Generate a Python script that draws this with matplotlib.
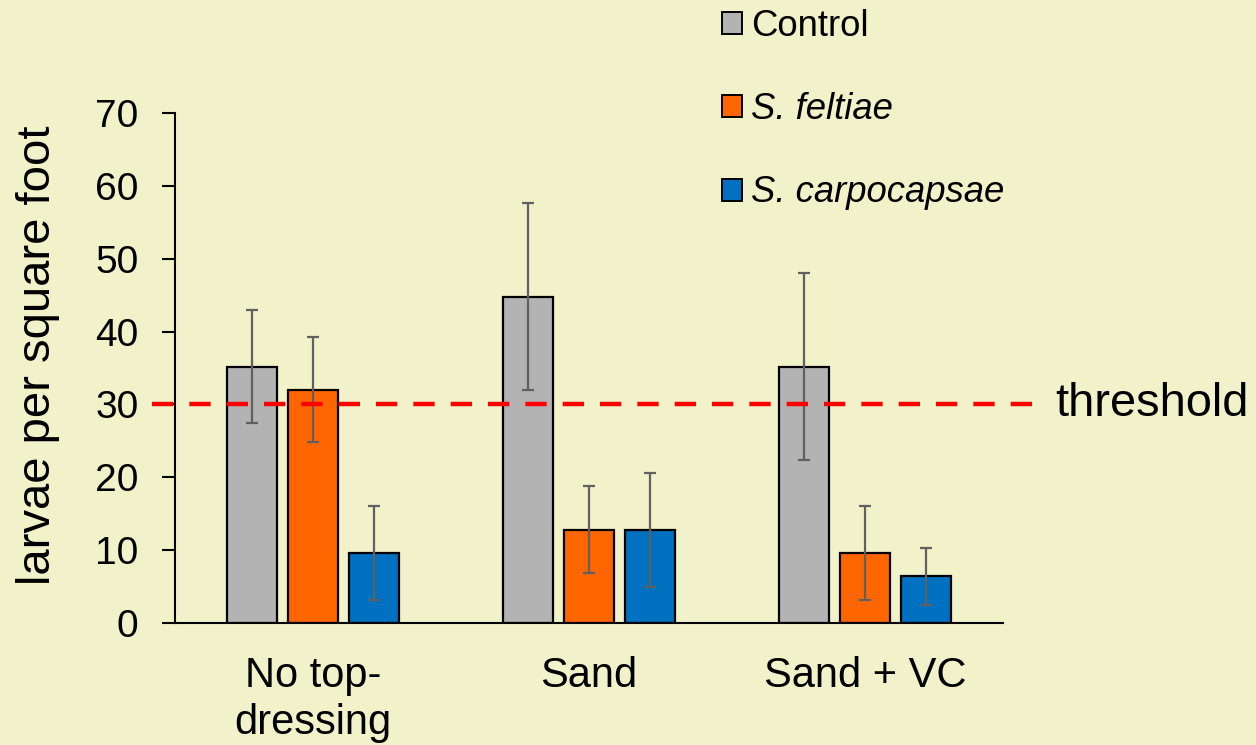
import numpy as np
import matplotlib
matplotlib.use('Agg')
import matplotlib.pyplot as plt
from matplotlib.patches import Patch

plt.rcParams['font.family'] = ['Liberation Sans', 'DejaVu Sans']

# data
groups = ['No top-\ndressing', 'Sand', 'Sand + VC']
series = ['Control', 'S. feltiae', 'S. carpocapsae']
control = [35.2, 44.8, 35.2]
control_err = [7.8, 12.8, 12.8]
feltiae = [32.0, 12.8, 9.6]
feltiae_err = [7.2, 6.0, 6.4]
carpo = [9.6, 12.8, 6.4]
carpo_err = [6.4, 7.8, 3.9]
threshold = 30
yticks = [0, 10, 20, 30, 40, 50, 60, 70]

bg = '#F2F2CA'
colors = ['#B3B3B3', '#FF6600', '#0070C0']

fig = plt.figure(figsize=(12.56, 7.45), dpi=100, facecolor=bg)
ax = fig.add_axes([175/1256, 1-623/745, 828/1256, 510/745])
ax.set_facecolor(bg)

x = np.arange(len(groups))
w = 0.178
step = 0.221
ekw = dict(ecolor='#606060', elinewidth=1.6, capsize=4.3, capthick=1.6)
for i, (vals, errs) in enumerate([(control, control_err), (feltiae, feltiae_err), (carpo, carpo_err)]):
    ax.bar(x + (i-1)*step, vals, w, yerr=errs, color=colors[i], edgecolor='black',
           linewidth=1.6, error_kw=ekw, zorder=2)

# threshold line, extends beyond the axes
ax.plot([-0.583, 2.609], [threshold, threshold], color='#FF0000', lw=3.2,
        linestyle=(0, (4.8, 3.6)), clip_on=False, zorder=4)
ax.text(2.688, threshold, 'threshold', fontsize=33.8, va='center', ha='left',
        clip_on=False)

ax.set_xlim(-0.5, 2.5)
ax.set_ylim(0, 70)
ax.set_yticks(yticks)
ax.set_xticks(x)
ax.set_xticklabels(groups, fontsize=30, linespacing=1.2)
ax.tick_params(axis='x', length=0, pad=24)
ax.tick_params(axis='y', length=9.4, width=1.5, labelsize=28, pad=17, direction='out')
for s in ['top', 'right']:
    ax.spines[s].set_visible(False)
for s in ['left', 'bottom']:
    ax.spines[s].set_linewidth(1.5)

ax.set_ylabel('larvae per square foot', fontsize=34)
ax.yaxis.set_label_coords(-0.139, 0.5245)

handles = [Patch(facecolor=c, edgecolor='black', linewidth=1.4) for c in colors]
leg = ax.legend(handles, series, loc='upper left', bbox_to_anchor=(722/1256, 1-9/745),
                bbox_transform=fig.transFigure, frameon=False, fontsize=26.3,
                handlelength=0.55, handleheight=0.55, handletextpad=0.25,
                labelspacing=1.32, borderpad=0, borderaxespad=0)
for t in leg.get_texts()[1:]:
    t.set_fontstyle('italic')

fig.savefig('out.png', dpi=100, facecolor=bg)
